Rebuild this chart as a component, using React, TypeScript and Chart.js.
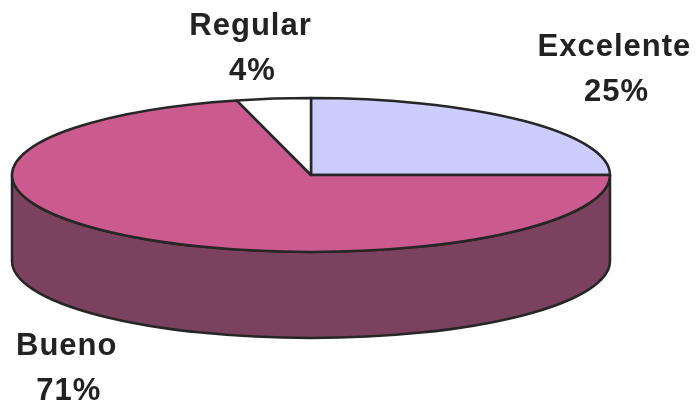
import React, { useEffect, useRef } from "react";
import { Chart, registerables } from "chart.js";

Chart.register(...registerables);

const categories = ["Excelente", "Bueno", "Regular"];
const values = [25, 71, 4];
const topColors = ["#CCCCFF", "#CB5B8F", "#FFFFFF"];
const sideColors = ["#66669A", "#7A425E", "#9A9A9A"];

// layout constants (not data)
const RX = 299;
const RY = 77;
const DEPTH = 86;
const LABEL_NUDGE = [
  [92, -53],
  [-61, 45],
  [-23, -52],
];

const pie3d = {
  id: "pie3d",
  beforeDatasetsDraw(chart: any) {
    const ctx = chart.ctx;
    const meta = chart.getDatasetMeta(0);
    const arcs = meta.data;
    if (!arcs.length) return false;
    const cx = arcs[0].x;
    const cy = arcs[0].y;
    ctx.save();
    ctx.lineWidth = 2.5;
    ctx.strokeStyle = "#262626";
    ctx.lineJoin = "round";
    const TWO = Math.PI * 2;
    // sides (front-facing part only)
    arcs.forEach((arc: any, i: number) => {
      const p = arc.getProps(["startAngle", "endAngle"], true);
      let s = p.startAngle;
      let e = p.endAngle;
      while (s < 0) { s += TWO; e += TWO; }
      while (s >= TWO) { s -= TWO; e -= TWO; }
      const ranges = [
        [Math.max(s, 0), Math.min(e, Math.PI)],
        [Math.max(s, TWO), Math.min(e, TWO + Math.PI)],
      ];
      ranges.forEach(([a, b]) => {
        if (b - a <= 1e-6) return;
        ctx.beginPath();
        ctx.moveTo(cx + RX * Math.cos(a), cy + RY * Math.sin(a));
        ctx.ellipse(cx, cy, RX, RY, 0, a, b);
        ctx.lineTo(cx + RX * Math.cos(b), cy + DEPTH + RY * Math.sin(b));
        ctx.ellipse(cx, cy + DEPTH, RX, RY, 0, b, a, true);
        ctx.closePath();
        ctx.fillStyle = sideColors[i];
        ctx.fill();
        ctx.stroke();
      });
    });
    // tops
    arcs.forEach((arc: any, i: number) => {
      const p = arc.getProps(["startAngle", "endAngle"], true);
      ctx.beginPath();
      ctx.moveTo(cx, cy);
      ctx.ellipse(cx, cy, RX, RY, 0, p.startAngle, p.endAngle);
      ctx.closePath();
      ctx.fillStyle = topColors[i];
      ctx.fill();
      ctx.stroke();
    });
    // labels
    const total = values.reduce((a, b) => a + b, 0);
    ctx.fillStyle = "#222222";
    ctx.font = "bold 31px 'Liberation Sans', Arial, sans-serif";
    try { (ctx as any).letterSpacing = "1px"; } catch (e) {}
    ctx.textAlign = "center";
    ctx.textBaseline = "alphabetic";
    arcs.forEach((arc: any, i: number) => {
      const p = arc.getProps(["startAngle", "endAngle"], true);
      const m = (p.startAngle + p.endAngle) / 2;
      let ex = cx + RX * Math.cos(m);
      let ey = cy + RY * Math.sin(m);
      if (Math.sin(m) > 0) ey += DEPTH;
      const lx = ex + LABEL_NUDGE[i][0];
      const ly = ey + LABEL_NUDGE[i][1];
      const pct = Math.round((values[i] / total) * 100) + "%";
      ctx.fillText(categories[i], lx, ly - 12);
      ctx.fillText(pct, lx + 2, ly + 33);
    });
    ctx.restore();
    return false;
  },
};

export default function App() {
  const ref = useRef<HTMLCanvasElement | null>(null);
  useEffect(() => {
    if (!ref.current) return;
    const chart = new Chart(ref.current, {
      type: "pie",
      data: {
        labels: categories,
        datasets: [
          {
            data: values,
            backgroundColor: topColors,
            borderWidth: 0,
          },
        ],
      },
      options: {
        animation: false,
        responsive: true,
        maintainAspectRatio: false,
        rotation: 0,
        layout: { padding: { left: 0, right: 75, top: 0, bottom: 58 } },
        plugins: {
          legend: { display: false },
          tooltip: { enabled: false },
        },
      },
      plugins: [pie3d],
    });
    return () => chart.destroy();
  }, []);
  return (
    <div style={{ position: "absolute", left: 0, top: 0, width: 697, height: 408, background: "#fff" }}>
      <canvas ref={ref} />
    </div>
  );
}
